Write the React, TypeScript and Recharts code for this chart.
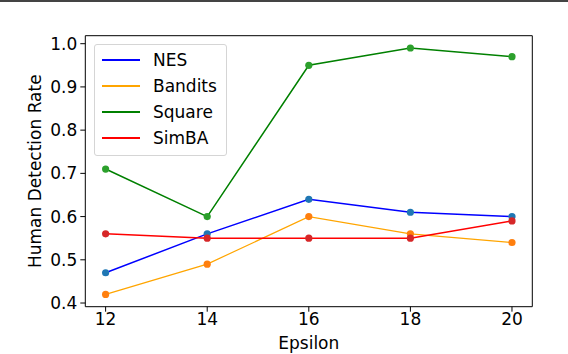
import React from 'react';
import { LineChart, Line, XAxis, YAxis, ReferenceArea } from 'recharts';

const epsilons = [12, 14, 16, 18, 20];
const nes = [0.47, 0.56, 0.64, 0.61, 0.6];
const bandits = [0.42, 0.49, 0.6, 0.56, 0.54];
const square = [0.71, 0.6, 0.95, 0.99, 0.97];
const simba = [0.56, 0.55, 0.55, 0.55, 0.59];
const seriesNames = ['NES', 'Bandits', 'Square', 'SimBA'];
const xTicks = [12, 14, 16, 18, 20];
const yTicks = [0.4, 0.5, 0.6, 0.7, 0.8, 0.9, 1.0];

const data = epsilons.map((e, i) => ({
  eps: e,
  NES: nes[i],
  Bandits: bandits[i],
  Square: square[i],
  SimBA: simba[i],
}));

// line colour, marker colour, line width
const styles: Record<string, { line: string; dot: string; width: number }> = {
  NES: { line: '#0000ff', dot: '#1f77b4', width: 1.5 },
  Bandits: { line: '#ffa500', dot: '#ff7f0e', width: 1.2 },
  Square: { line: '#008000', dot: '#2ca02c', width: 1.5 },
  SimBA: { line: '#ff0000', dot: '#d62728', width: 1.5 },
};

const font = 'DejaVu Sans';
const X_DOMAIN: [number, number] = [11.6, 20.4];
const Y_DOMAIN: [number, number] = [0.3915, 1.0185];

const App = () => {
  return (
    <div
      style={{
        position: 'absolute',
        left: 0,
        top: 0,
        width: 568,
        height: 354,
        background: '#fff',
        fontFamily: font,
      }}
    >
      <div style={{ position: 'absolute', left: 0, top: 0, width: 568, height: 2, background: '#444' }} />
      <LineChart
        width={568}
        height={354}
        data={data}
        margin={{ top: 35.7, right: 35.7, left: 0, bottom: 0 }}
      >
        <XAxis
          dataKey="eps"
          type="number"
          domain={X_DOMAIN}
          ticks={xTicks}
          allowDataOverflow
          height={47.3}
          axisLine={false}
          tickSize={5}
          tickMargin={1}
          tickLine={{ stroke: '#000' }}
          tick={{ fill: '#000', fontSize: 17, fontFamily: font }}
          label={{
            value: 'Epsilon',
            position: 'insideBottom',
            offset: 5,
            fill: '#000',
            fontSize: 17,
            fontFamily: font,
          }}
        />
        <YAxis
          type="number"
          domain={Y_DOMAIN}
          ticks={yTicks}
          allowDataOverflow
          width={85.3}
          axisLine={false}
          tickSize={5}
          tickMargin={3}
          tickLine={{ stroke: '#000' }}
          tickFormatter={(v: number) => v.toFixed(1)}
          tick={{ fill: '#000', fontSize: 17, fontFamily: font }}
          label={{
            value: 'Human Detection Rate',
            angle: -90,
            position: 'center',
            dx: -8,
            fill: '#000',
            fontSize: 17,
            fontFamily: font,
          }}
        />
        <ReferenceArea
          x1={X_DOMAIN[0]}
          x2={X_DOMAIN[1]}
          y1={Y_DOMAIN[0]}
          y2={Y_DOMAIN[1]}
          fill="none"
          fillOpacity={0}
          stroke="#000"
          strokeWidth={1}
          ifOverflow="visible"
        />
        {seriesNames.map((name) => (
          <Line
            key={name}
            type="linear"
            dataKey={name}
            stroke={styles[name].line}
            strokeWidth={styles[name].width}
            dot={{ r: 3.6, fill: styles[name].dot, stroke: 'none' }}
            activeDot={false}
            isAnimationActive={false}
          />
        ))}
      </LineChart>
      <div
        style={{
          position: 'absolute',
          left: 94,
          top: 44,
          width: 131,
          height: 110,
          border: '1px solid #d5d5d5',
          borderRadius: 3,
          background: 'rgba(255,255,255,0.8)',
          boxSizing: 'content-box',
        }}
      >
        {seriesNames.map((name, i) => (
          <div
            key={name}
            style={{ position: 'absolute', left: 0, top: 2 + i * 26, height: 26, width: 131 }}
          >
            <div
              style={{
                position: 'absolute',
                left: 7,
                top: 13 - styles[name].width / 2,
                width: 38,
                height: name === 'Bandits' ? 1.2 : 2,
                background: styles[name].line,
              }}
            />
            <span
              style={{
                position: 'absolute',
                left: 58,
                top: 2,
                fontSize: 17,
                lineHeight: '22px',
                color: '#000',
                whiteSpace: 'nowrap',
              }}
            >
              {name}
            </span>
          </div>
        ))}
      </div>
    </div>
  );
};

export default App;
